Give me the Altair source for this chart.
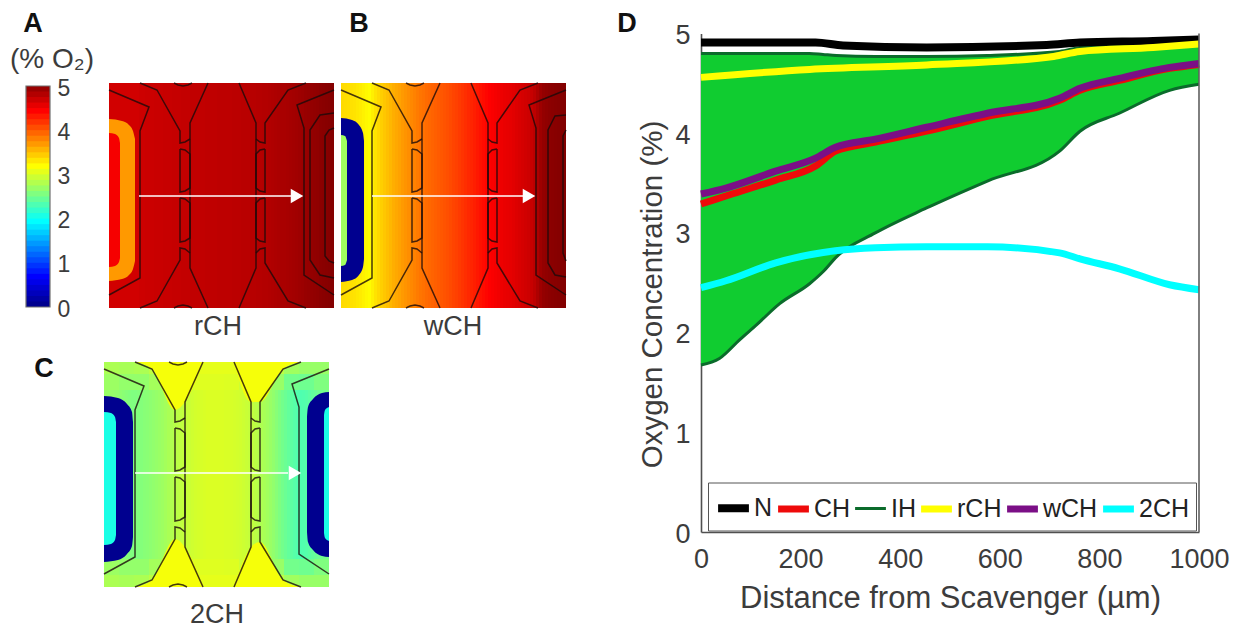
import altair as alt
import pandas as pd

FONT = "Liberation Sans"
TXT = "#3c3c3c"

# ---- colour map (oxygen %) ----
jet_domain = [0, 0.625, 1.875, 3.125, 4.375, 5]
jet_range = ["#00008f", "#0000ff", "#00ffff", "#ffff00", "#ff0000", "#800000"]
colorbar_levels = [0, 0.125, 0.25, 0.375, 0.5, 0.625, 0.75, 0.875, 1, 1.125, 1.25, 1.375, 1.5, 1.625,
                   1.75, 1.875, 2, 2.125, 2.25, 2.375, 2.5, 2.625, 2.75, 2.875, 3, 3.125, 3.25, 3.375,
                   3.5, 3.625, 3.75, 3.875, 4, 4.125, 4.25, 4.375, 4.5, 4.625, 4.75, 4.875]
colorbar_tops = [0.2, 0.325, 0.45, 0.575, 0.7, 0.825, 0.95, 1.075, 1.2, 1.325, 1.45, 1.575, 1.7, 1.825,
                 1.95, 2.075, 2.2, 2.325, 2.45, 2.575, 2.7, 2.825, 2.95, 3.075, 3.2, 3.325, 3.45, 3.575,
                 3.7, 3.825, 3.95, 4.075, 4.2, 4.325, 4.45, 4.575, 4.7, 4.825, 4.95, 5]

# ---- oxygen across each domain, one value per column ----
col_start = [0, 3, 6, 9, 12, 15, 18, 21, 24, 27, 30, 33, 36, 39, 42, 45, 48, 51, 54, 57, 60, 63, 66, 69, 72,
             75, 78, 81, 84, 87, 90, 93, 96, 99, 102, 105, 108, 111, 114, 117, 120, 123, 126, 129, 132,
             135, 138, 141, 144, 147, 150, 153, 156, 159, 162, 165, 168, 171, 174, 177, 180, 183, 186, 189,
             192, 195, 198, 201, 204, 207, 210, 213, 216, 219, 222]
col_end = [3, 6, 9, 12, 15, 18, 21, 24, 27, 30, 33, 36, 39, 42, 45, 48, 51, 54, 57, 60, 63, 66, 69, 72, 75,
           78, 81, 84, 87, 90, 93, 96, 99, 102, 105, 108, 111, 114, 117, 120, 123, 126, 129, 132, 135,
           138, 141, 144, 147, 150, 153, 156, 159, 162, 165, 168, 171, 174, 177, 180, 183, 186, 189, 192,
           195, 198, 201, 204, 207, 210, 213, 216, 219, 222, 225]
field_a = [4.60, 4.60, 4.60, 4.60, 4.60, 4.60, 4.60, 4.60, 4.60, 4.60,
           4.62, 4.62, 4.63, 4.63, 4.63, 4.64, 4.64, 4.64, 4.65, 4.65,
           4.65, 4.66, 4.66, 4.66, 4.67, 4.67, 4.67, 4.68, 4.68, 4.68,
           4.68, 4.68, 4.69, 4.69, 4.69, 4.69, 4.70, 4.70, 4.70, 4.70,
           4.70, 4.71, 4.71, 4.71, 4.72, 4.72, 4.72, 4.73, 4.73, 4.74,
           4.74, 4.75, 4.75, 4.76, 4.77, 4.78, 4.79, 4.80, 4.80, 4.81,
           4.82, 4.83, 4.84, 4.85, 4.86, 4.88, 4.89, 4.90, 4.91, 4.92,
           4.94, 4.95, 4.96, 4.97, 4.98]
field_b = [3.30, 3.29, 3.28, 3.27, 3.26, 3.24, 3.22, 3.19, 3.16, 3.14,
           3.20, 3.26, 3.31, 3.36, 3.40, 3.44, 3.48, 3.52, 3.55, 3.58,
           3.62, 3.65, 3.68, 3.71, 3.74, 3.77, 3.80, 3.82, 3.85, 3.87,
           3.89, 3.91, 3.93, 3.95, 3.97, 3.99, 4.01, 4.04, 4.06, 4.09,
           4.12, 4.15, 4.18, 4.20, 4.23, 4.26, 4.29, 4.32, 4.35, 4.38,
           4.40, 4.42, 4.44, 4.46, 4.48, 4.49, 4.50, 4.52, 4.54, 4.56,
           4.58, 4.60, 4.62, 4.65, 4.70, 4.78, 4.85, 4.90, 4.92, 4.94,
           4.95, 4.96, 4.97, 4.98, 4.99]
field_c = [2.62, 2.62, 2.61, 2.60, 2.59, 2.57, 2.55, 2.53, 2.51, 2.50,
           2.50, 2.51, 2.52, 2.54, 2.55, 2.57, 2.59, 2.61, 2.63, 2.65,
           2.68, 2.71, 2.74, 2.77, 2.79, 2.81, 2.83, 2.85, 2.87, 2.89,
           2.91, 2.92, 2.93, 2.94, 2.95, 2.95, 2.95, 2.95, 2.95, 2.95,
           2.94, 2.94, 2.93, 2.92, 2.91, 2.90, 2.88, 2.86, 2.84, 2.82,
           2.79, 2.76, 2.73, 2.70, 2.67, 2.63, 2.59, 2.54, 2.49, 2.44,
           2.40, 2.36, 2.33, 2.30, 2.27, 2.26, 2.27, 2.29, 2.32, 2.35,
           2.38, 2.41, 2.43, 2.45, 2.46]
# panel C is warmer towards its top and bottom edges: coarser columns there
band_start = [0, 15, 30, 45, 60, 75, 90, 105, 120, 135, 150, 165, 180, 195, 210]
band_end = [15, 30, 45, 60, 75, 90, 105, 120, 135, 150, 165, 180, 195, 210, 225]
field_c_edge = [2.72, 2.70, 2.72, 2.80, 2.92, 3.00, 3.00, 3.00, 3.00, 2.98, 2.90, 2.80, 2.66, 2.62, 2.62]
field_c_near = [2.64, 2.60, 2.60, 2.68, 2.80, 2.93, 2.97, 2.97, 2.96, 2.88, 2.76, 2.62, 2.44, 2.42, 2.50]
band_edge_y = ([0, 12], [213, 225])
band_near_y = ([12, 28], [197, 213])

# ---- device outlines (panel units) ----
outline_shared = {
    "shoulderL": ([0, 40, 31, 31, 0], [7, 24, 48, 195, 212]),
    "shoulderR": ([225, 188, 195, 195, 225], [7, 22, 45, 192, 212]),
    "L1": ([31, 48, 71, 71, 76, 81], [0, 7, 48, 60, 59, 56]),
    "L1b": ([31, 48, 71, 71, 76, 81], [225, 218, 177, 165, 166, 170]),
    "L2": ([99, 81, 81, 99], [0, 40, 185, 225]),
    "R2": ([130, 147, 147, 130], [0, 40, 185, 225]),
    "R1": ([197, 179, 156, 156, 151, 147], [0, 7, 40, 60, 59, 56]),
    "R1b": ([197, 179, 156, 156, 151, 147], [225, 218, 180, 165, 166, 170]),
    "pL1": ([71, 76, 81, 81, 76, 71, 71], [66, 67, 71, 105, 108, 109, 66]),
    "pL2": ([71, 76, 81, 81, 76, 71, 71], [115, 116, 120, 155, 158, 159, 115]),
    "pR1": ([156, 151, 147, 147, 151, 156, 156], [66, 67, 71, 105, 108, 109, 66]),
    "pR2": ([156, 151, 147, 147, 151, 156, 156], [115, 116, 120, 155, 158, 159, 115]),
    "arcT": ([65, 69, 74, 79, 83], [0, 2, 3, 2, 0]),
    "arcB": ([65, 69, 74, 79, 83], [225, 223, 222, 223, 225]),
}
outline_a = {
    "ringO": ([225, 211, 201, 201, 211, 225], [30, 32, 47, 177, 192, 195]),
    "ringI": ([225, 220, 216, 216, 220, 225], [45, 47, 53, 173, 178, 180]),
}
outline_b = {
    "ringO": ([225, 214, 207, 207, 214, 225], [32, 33, 47, 180, 192, 194]),
    "ringI": ([225, 222, 222, 225], [47, 53, 170, 178]),
}

# ---- scavenger islands: x, top, bottom, oxygen ----
islands_a = [
    ([0, 13, 20, 24, 26], [36, 38, 42, 48, 56], [198, 196, 192, 186, 178], 3.625),
    ([0, 6, 10, 11], [50, 51, 55, 60], [184, 183, 179, 175], 4.42),
]
islands_b = [
    ([0, 11, 18, 22, 23], [35, 37, 42, 50, 58], [199, 197, 192, 184, 176], 0.0),
    ([0, 4, 6], [52, 53, 58], [183, 182, 177], 2.66),
]
islands_c = [
    ([0, 14, 23, 28, 29], [34, 36, 42, 50, 60], [200, 198, 192, 184, 175], 0.0),
    ([0, 7, 11, 12], [50, 51, 55, 60], [183, 182, 178, 173], 2.0),
    ([203, 204, 209, 218, 225], [55, 45, 37, 31, 30], [170, 180, 188, 194, 195], 0.0),
    ([220, 221, 225], [53, 48, 45], [171, 176, 179], 2.0),
]
wedges_c = [
    ([31, 48, 71, 81, 99], [0, 0, 0, 0, 0], [0, 7, 48, 40, 0], 3.08),
    ([130, 147, 156, 179, 197], [0, 0, 0, 0, 0], [0, 40, 40, 7, 0], 3.08),
    ([31, 48, 71, 81, 99], [225, 218, 177, 185, 225], [225, 225, 225, 225, 225], 3.08),
    ([130, 147, 156, 179, 197], [225, 185, 180, 218, 225], [225, 225, 225, 225, 225], 3.08),
]

# ---- line chart ----
series_names = ["N", "CH", "IH", "rCH", "wCH", "2CH"]
series_colors = ["#000000", "#ee0a0a", "#0b6b2b", "#ffff00", "#7b0f86", "#00ffff"]
series_widths = [8, 7, 3, 7, 7, 7]

n_x = [0, 230, 285, 453, 694, 761, 908, 1000]
n_y = [4.91, 4.91, 4.88, 4.86, 4.885, 4.91, 4.925, 4.94]
ch_x = [0, 50, 150, 230, 270, 350, 453, 575, 720, 761, 840, 941, 1000]
ch_y = [3.29, 3.37, 3.53, 3.67, 3.82, 3.91, 4.02, 4.17, 4.33, 4.43, 4.53, 4.65, 4.69]
w_x = [0, 50, 150, 230, 270, 350, 453, 575, 720, 761, 840, 941, 1000]
w_y = [3.39, 3.45, 3.62, 3.75, 3.86, 3.94, 4.06, 4.20, 4.35, 4.45, 4.55, 4.66, 4.70]
r_x = [0, 218, 453, 708, 761, 908, 1000]
r_y = [4.56, 4.64, 4.685, 4.77, 4.82, 4.86, 4.895]
c2_x = [0, 50, 150, 270, 350, 453, 575, 720, 761, 840, 941, 1000]
c2_y = [2.45, 2.52, 2.70, 2.82, 2.85, 2.86, 2.86, 2.80, 2.74, 2.64, 2.48, 2.43]
ih_x = [0, 37, 78, 112, 158, 218, 245, 272, 350, 453, 575, 720, 761, 840, 941, 1000]
ih_hi = [4.80, 4.80, 4.80, 4.80, 4.80, 4.80, 4.79, 4.78, 4.77, 4.77, 4.78, 4.82, 4.86, 4.89, 4.92, 4.94]
ih_lo = [1.675, 1.74, 1.93, 2.08, 2.29, 2.49, 2.61, 2.76, 3.00, 3.25, 3.52, 3.82, 4.02, 4.20, 4.43, 4.49]

W, H = 1223, 612
JET = alt.Scale(domain=jet_domain, range=jet_range, interpolate="rgb", clamp=True)
FILL = alt.Fill("v:Q", scale=JET, legend=None)


def label(text, x, y, size=27, bold=True):
    return alt.Chart(alt.Data(values=[{}])).mark_text(
        text=text, x=x, y=y, font=FONT, fontSize=size, align="center", baseline="middle",
        fontWeight="bold" if bold else "normal", color="#111111" if bold else TXT)


def outlines_df(*groups):
    rows = []
    for g in groups:
        for name, (xs, ys) in g.items():
            for i, (a, b) in enumerate(zip(xs, ys)):
                rows.append({"part": name, "i": i, "x": a, "y": b})
    return pd.DataFrame(rows)


def panel(left, top, field, islands, outlines, arrow_x, arrow_tip, arrow_y, wedges=(), bands=()):
    sx = alt.Scale(domain=[0, 225], range=[left, left + 225], nice=False)
    sy = alt.Scale(domain=[0, 225], range=[top, top + 225], nice=False)
    X = lambda f: alt.X(f, scale=sx, axis=None)
    Y = lambda f: alt.Y(f, scale=sy, axis=None)

    def rects(x0, x1, y0, y1, vals):
        n = len(vals)
        d = pd.DataFrame({"x0": x0, "x1": x1, "y0": [y0] * n, "y1": [y1] * n, "v": vals})
        return alt.Chart(d).mark_rect().encode(x=X("x0:Q"), x2="x1:Q", y=Y("y0:Q"), y2="y1:Q", fill=FILL)

    layers = [rects(col_start, col_end, 0, 225, field)]
    for (y0, y1), vals in bands:
        layers.append(rects(band_start, band_end, y0, y1, vals))
    for xs, t, b, v in list(wedges) + list(islands):
        d = pd.DataFrame({"x": xs, "t": t, "b": b, "v": [v] * len(xs)})
        layers.append(alt.Chart(d).mark_area(interpolate="monotone").encode(
            x=X("x:Q"), y=Y("t:Q"), y2="b:Q", fill=FILL))
    layers.append(alt.Chart(outlines_df(*outlines)).mark_line(
        color="#1a0a0a", strokeWidth=1.5, strokeOpacity=0.8).encode(
        x=X("x:Q"), y=Y("y:Q"), detail="part:N", order="i:Q"))
    layers.append(alt.Chart(pd.DataFrame({"x": arrow_x, "y": [arrow_y, arrow_y]})).mark_line(
        color="white", strokeWidth=1.6).encode(x=X("x:Q"), y=Y("y:Q")))
    layers.append(alt.Chart(pd.DataFrame({"x": [arrow_tip], "y": [arrow_y]})).mark_point(
        shape="triangle-right", filled=True, color="white", opacity=1, size=210).encode(
        x=X("x:Q"), y=Y("y:Q")))
    return alt.layer(*layers)


# ---- colour bar ----
cb_n = len(colorbar_levels)
cb = pd.DataFrame({"v": colorbar_levels, "t": colorbar_tops, "a": [0] * cb_n, "b": [1] * cb_n})
cb_x = alt.Scale(domain=[0, 1], range=[18, 42], nice=False)
cb_y = alt.Scale(domain=[0, 5], range=[299, 78], nice=False)
cb_axis = alt.Axis(orient="right", offset=42 - W, values=[0, 1, 2, 3, 4, 5], domain=False, ticks=False, grid=False,
                   title=None, labelFont=FONT, labelFontSize=23, labelColor=TXT, labelPadding=7, labelOffset=2,
                   format="d")
colorbar = alt.layer(
    alt.Chart(cb).mark_rect().encode(
        x=alt.X("a:Q", scale=cb_x, axis=None), x2="b:Q",
        y=alt.Y("v:Q", scale=cb_y, axis=cb_axis), y2="t:Q", fill=FILL),
    alt.Chart(pd.DataFrame({"a": [0], "b": [1], "c": [0], "d": [5]})).mark_rect(
        fill=None, stroke="#707070", strokeWidth=1.2).encode(
        x=alt.X("a:Q", scale=cb_x, axis=None), x2="b:Q",
        y=alt.Y("c:Q", scale=cb_y, axis=cb_axis), y2="d:Q"),
)

panel_a = panel(101, 75, field_a, islands_a, [outline_shared, outline_a], [30, 182], 188, 113)
panel_b = panel(333, 75, field_b, islands_b, [outline_shared, outline_b], [31, 182], 188, 113)
panel_c = panel(96, 354, field_c, islands_c, [outline_shared], [31, 184], 191, 111, wedges_c,
                [(band_edge_y[0], field_c_edge), (band_edge_y[1], field_c_edge),
                 (band_near_y[0], field_c_near), (band_near_y[1], field_c_near)])

# ---- panel D ----
LEFT_D, RIGHT_D, TOP_D, BOT_D = 693, 1191, 25.5, 524
LEG = alt.Legend(title=None, orient="none", legendX=LEFT_D + 7, legendY=474.5, direction="horizontal", columns=6,
                 symbolType="stroke", symbolSize=950, labelFont=FONT, labelFontSize=25, labelColor="#222222",
                 labelOffset=1, columnPadding=-9, fillColor="white", strokeColor="#555555", padding=6,
                 symbolOpacity=1)
DX_SCALE = alt.Scale(domain=[0, 1000], range=[LEFT_D, RIGHT_D], nice=False)
DX_AXIS = alt.Axis(orient="bottom", offset=BOT_D - H, title="Distance from Scavenger (µm)",
                   values=[0, 200, 400, 600, 800, 1000], grid=False,
                   tickSize=0, domainColor="#505050", domainWidth=1.6, labelFont=FONT, labelFontSize=27,
                   labelColor=TXT, labelPadding=14, labelFlush=False, titleFont=FONT, titleFontSize=31,
                   titleFontWeight="normal", titleColor=TXT, titlePadding=11, format="d")
DY_SCALE = alt.Scale(domain=[0, 5], range=[BOT_D, TOP_D], nice=False)
DY_AXIS = alt.Axis(orient="left", offset=-LEFT_D, title="Oxygen Concentration (%)", values=[0, 1, 2, 3, 4, 5],
                   grid=False, tickSize=0, domainColor="#505050", domainWidth=1.6, labelFont=FONT, labelFontSize=27,
                   labelColor=TXT, labelPadding=11, labelOffset=2, titleFont=FONT, titleFontSize=29.5,
                   titleFontWeight="normal", titleColor=TXT, titlePadding=7, titleY=286, format="d")
DX = alt.X("x:Q", scale=DX_SCALE, axis=DX_AXIS)
DY = alt.Y("y:Q", scale=DY_SCALE, axis=DY_AXIS)


def line_layer(name, xs, ys):
    d = pd.DataFrame({"x": xs, "y": ys, "s": [name] * len(xs)})
    return alt.Chart(d).mark_line(interpolate="monotone", strokeCap="butt").encode(
        x=DX, y=DY,
        stroke=alt.Stroke("s:N", scale=alt.Scale(domain=series_names, range=series_colors), legend=LEG),
        strokeWidth=alt.StrokeWidth("s:N", scale=alt.Scale(type="ordinal", domain=series_names, range=series_widths),
                                    legend=LEG),
    )


band = alt.Chart(pd.DataFrame({"x": ih_x, "hi": ih_hi, "lo": ih_lo})).mark_area(
    interpolate="monotone", color="#10cc30").encode(x=DX, y=alt.Y("hi:Q", scale=DY_SCALE, axis=DY_AXIS), y2="lo:Q")
right_edge = alt.Chart(pd.DataFrame({"x": [1000], "a": [0], "b": [5]})).mark_rule(
    color="#606060", strokeWidth=1.6).encode(x=DX, y=alt.Y("a:Q", scale=DY_SCALE, axis=DY_AXIS), y2="b:Q")
panel_d = alt.layer(
    band,
    line_layer("IH", ih_x, ih_lo),
    line_layer("IH", ih_x, ih_hi),
    line_layer("N", n_x, n_y),
    line_layer("CH", ch_x, ch_y),
    line_layer("rCH", r_x, r_y),
    line_layer("wCH", w_x, w_y),
    line_layer("2CH", c2_x, c2_y),
    right_edge,
)

texts = alt.layer(
    label("A", 25, 15.5), label("B", 351, 15.5), label("C", 36, 361), label("D", 619, 16),
    label("(% O₂)", 44, 52, size=28, bold=False),
    label("rCH", 210, 319, bold=False), label("wCH", 445, 319, bold=False),
    label("2CH", 209, 607, size=27, bold=False),
)

chart = alt.layer(panel_d, colorbar, panel_a, panel_b, panel_c, texts).resolve_scale(
    x="independent", y="independent"
).resolve_axis(x="independent", y="independent").properties(
    width=W, height=H, padding=0, background="white"
).configure_view(stroke=None)

chart.save("out.html", embed_options={"renderer": "svg", "actions": False})
